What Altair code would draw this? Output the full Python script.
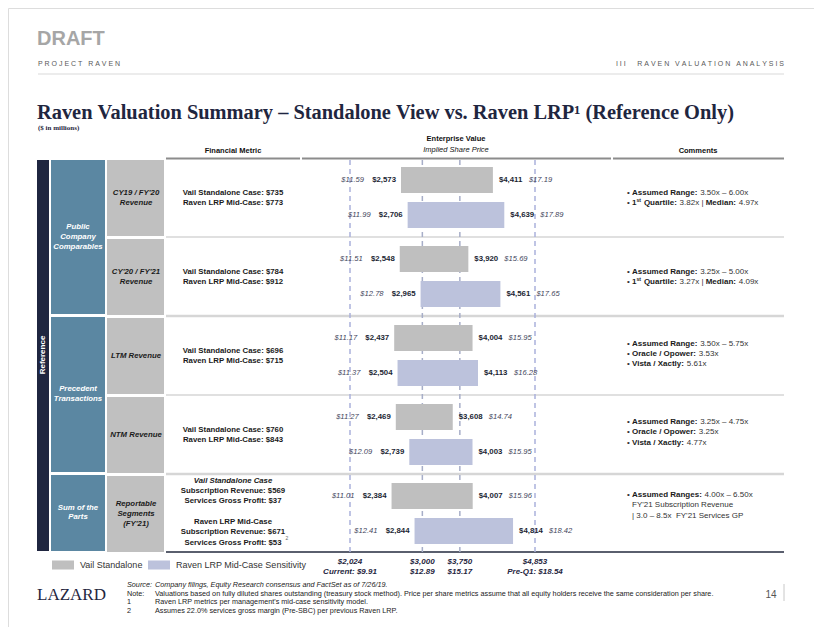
import altair as alt
import pandas as pd

# ---------------- data ----------------
GROUPS = ["CY19 / FY'20 Revenue", "CY'20 / FY'21 Revenue", "LTM Revenue", "NTM Revenue",
          "Reportable Segments (FY'21)"]
CASES = ["Vail Standalone", "Raven LRP Mid-Case Sensitivity"]
VAIL_LOW = [2573, 2548, 2437, 2469, 2384]
VAIL_HIGH = [4411, 3920, 4004, 3608, 4007]
VAIL_LOW_PX = ["$11.59", "$11.51", "$11.17", "$11.27", "$11.01"]
VAIL_HIGH_PX = ["$17.19", "$15.69", "$15.95", "$14.74", "$15.96"]
LRP_LOW = [2706, 2965, 2504, 2739, 2844]
LRP_HIGH = [4639, 4561, 4113, 4003, 4814]
LRP_LOW_PX = ["$11.99", "$12.78", "$11.37", "$12.09", "$12.41"]
LRP_HIGH_PX = ["$17.89", "$17.65", "$16.28", "$15.95", "$18.42"]
REF_EV = [2024, 3000, 3750, 4853]
REF_KIND = ["outer", "inner", "inner", "outer"]
REF_TOP = ["$2,024", "$3,000", "$3,750", "$4,853"]
REF_BOTTOM = ["Current: $9.91", "$12.89", "$15.17", "Pre-Q1: $18.54"]

METRIC_CELL = [["CY19 / FY'20", "Revenue"], ["CY'20 / FY'21", "Revenue"], ["LTM Revenue"],
               ["NTM Revenue"], ["Reportable", "Segments", "(FY'21)"]]
CATEGORY_CELL = [["Public", "Company", "Comparables"], ["Precedent", "Transactions"], ["Sum of the", "Parts"]]
FIN_METRIC = [["Vail Standalone Case: $735", "Raven LRP Mid-Case: $773"],
              ["Vail Standalone Case: $784", "Raven LRP Mid-Case: $912"],
              ["Vail Standalone Case: $696", "Raven LRP Mid-Case: $715"],
              ["Vail Standalone Case: $760", "Raven LRP Mid-Case: $843"]]
SOTP_METRIC = [("Vail Standalone Case", "fin_i"), ("Subscription Revenue: $569", "fin"),
               ("Services Gross Profit: $37", "fin"), ("Raven LRP Mid-Case", "fin"),
               ("Subscription Revenue: $671", "fin"), ("Services Gross Profit: $53", "fin")]
COMMENTS = [
    [(True, [("Assumed Range:", "b"), (" 3.50x \u2013 6.00x", "r")]),
     (True, [("1", "b"), ("st", "s"), (" Quartile:", "b"), (" 3.82x | ", "r"), ("Median:", "b"), (" 4.97x", "r")])],
    [(True, [("Assumed Range:", "b"), (" 3.25x \u2013 5.00x", "r")]),
     (True, [("1", "b"), ("st", "s"), (" Quartile:", "b"), (" 3.27x | ", "r"), ("Median:", "b"), (" 4.09x", "r")])],
    [(True, [("Assumed Range:", "b"), (" 3.50x \u2013 5.75x", "r")]),
     (True, [("Oracle / Opower:", "b"), (" 3.53x", "r")]),
     (True, [("Vista / Xactly:", "b"), (" 5.61x", "r")])],
    [(True, [("Assumed Range:", "b"), (" 3.25x \u2013 4.75x", "r")]),
     (True, [("Oracle / Opower:", "b"), (" 3.25x", "r")]),
     (True, [("Vista / Xactly:", "b"), (" 4.77x", "r")])],
    [(True, [("Assumed Ranges:", "b"), (" 4.00x \u2013 6.50x", "r")]),
     (False, [("FY'21 Subscription Revenue", "r")]),
     (False, [("| 3.0 \u2013 8.5x  FY'21 Services GP", "r")])],
]
FOOTNOTES = [("Source:", "Company filings, Equity Research consensus and FactSet as of 7/26/19.", True),
             ("Note:", "Valuations based on fully diluted shares outstanding (treasury stock method). Price per share "
                       "metrics assume that all equity holders receive the same consideration per share.", False),
             ("1", "Raven LRP metrics per management's mid-case sensitivity model.", False),
             ("2", "Assumes 22.0% services gross margin (Pre-SBC) per previous Raven LRP.", False)]

# ---------------- layout / style ----------------
NAVY = "#1f2640"
STEEL = "#5b87a2"
CELLGRAY = "#c0c0c0"
BAR_GRAY = "#bfbfbf"
BAR_BLUE = "#bcc2dc"
SANS = "Liberation Sans"
SERIF = "Liberation Serif"
NB = "\u00a0"


def P(v):
    return v - 8  # page pixel -> chart pixel


def spaced(s):
    return (NB * 3).join(NB.join(w) for w in s.split(" "))


ROW_TOP = 158
STEP = 79

lo_min = min(VAIL_LOW + LRP_LOW)
hi_max = max(VAIL_HIGH + LRP_HIGH)
XS = alt.Scale(domain=[REF_EV[0], lo_min, hi_max, REF_EV[-1]],
               range=[P(350), P(272.35 + 0.05 * lo_min), P(272.35 + 0.05 * hi_max), P(535)],
               zero=False, nice=False)
YS = alt.Scale(domain=GROUPS, range=[P(ROW_TOP), P(ROW_TOP + 5 * STEP)], paddingInner=0, paddingOuter=0)
YOS = alt.Scale(domain=CASES, paddingInner=0.257, paddingOuter=0.257)

rows = []
for i, g in enumerate(GROUPS):
    rows.append(dict(group=g, case=CASES[0], low=VAIL_LOW[i], high=VAIL_HIGH[i],
                     lo_lbl=f"${VAIL_LOW[i]:,}", hi_lbl=f"${VAIL_HIGH[i]:,}",
                     lo_px=VAIL_LOW_PX[i], hi_px=VAIL_HIGH_PX[i]))
    rows.append(dict(group=g, case=CASES[1], low=LRP_LOW[i], high=LRP_HIGH[i],
                     lo_lbl=f"${LRP_LOW[i]:,}", hi_lbl=f"${LRP_HIGH[i]:,}",
                     lo_px=LRP_LOW_PX[i], hi_px=LRP_HIGH_PX[i]))
bars_df = pd.DataFrame(rows)
ref_df = pd.DataFrame(dict(ev=REF_EV, kind=REF_KIND, top=REF_TOP, bottom=REF_BOTTOM))

base = alt.Chart(bars_df).encode(
    y=alt.Y("group:N", sort=GROUPS, scale=YS, axis=None),
    yOffset=alt.YOffset("case:N", sort=CASES, scale=YOS),
)
bars = base.mark_bar(opacity=1).encode(
    x=alt.X("low:Q", scale=XS, axis=None),
    x2="high:Q",
    color=alt.Color("case:N", sort=CASES, scale=alt.Scale(domain=CASES, range=[BAR_GRAY, BAR_BLUE]),
                    legend=alt.Legend(title=None, orient="none", legendX=P(52), legendY=P(554),
                                      direction="horizontal", symbolType="M-1,-0.41H1V0.41H-1Z",
                                      symbolSize=484, symbolStrokeWidth=0, symbolOpacity=1,
                                      labelFont=SANS, labelFontSize=9, labelColor="#333333",
                                      labelOffset=6, columnPadding=5, padding=0)),
)
ev_lo = base.mark_text(align="right", dx=-5, font=SANS, fontSize=7.8, fontWeight="bold", color="#1b1f33",
                       baseline="middle").encode(x=alt.X("low:Q", scale=XS, axis=None), text="lo_lbl:N")
px_lo = base.mark_text(align="right", dx=-37, font=SANS, fontSize=7.6, fontStyle="italic", color="#43465c",
                       baseline="middle").encode(x=alt.X("low:Q", scale=XS, axis=None), text="lo_px:N")
ev_hi = base.mark_text(align="left", dx=6, font=SANS, fontSize=7.8, fontWeight="bold", color="#1b1f33",
                       baseline="middle").encode(x=alt.X("high:Q", scale=XS, axis=None), text="hi_lbl:N")
px_hi = base.mark_text(align="left", dx=36, font=SANS, fontSize=7.6, fontStyle="italic", color="#43465c",
                       baseline="middle").encode(x=alt.X("high:Q", scale=XS, axis=None), text="hi_px:N")

ref_rules = alt.Chart(ref_df).mark_rule(strokeDash=[5, 4], strokeWidth=1.5).encode(
    x=alt.X("ev:Q", scale=XS, axis=None),
    y=alt.value(P(160)), y2=alt.value(P(552)),
    color=alt.Color("kind:N", scale=alt.Scale(domain=["outer", "inner"], range=["#aab1dc", "#a7aec8"]),
                    legend=None),
)
ref_top = alt.Chart(ref_df).mark_text(font=SANS, fontSize=8, fontWeight="bold", fontStyle="italic",
                                      color=NAVY, baseline="middle").encode(
    x=alt.X("ev:Q", scale=XS, axis=None), y=alt.value(P(562)), text="top:N")
ref_bot = alt.Chart(ref_df).mark_text(font=SANS, fontSize=8, fontWeight="bold", fontStyle="italic",
                                      color=NAVY, baseline="middle").encode(
    x=alt.X("ev:Q", scale=XS, axis=None), y=alt.value(P(572)), text="bottom:N")

# ---------------- table decoration ----------------
rects = [dict(x=37, x2=49, y=160, y2=551, c=NAVY)]
for top, bot in [(160, 314), (317, 472), (475, 551)]:
    rects.append(dict(x=51, x2=105, y=top, y2=bot, c=STEEL))
for i in range(5):
    t = ROW_TOP + i * STEP
    rects.append(dict(x=107, x2=164, y=t + 2, y2=t + STEP - 1, c=CELLGRAY))
rect_df = pd.DataFrame(rects)
for k in ["x", "x2", "y", "y2"]:
    rect_df[k] = rect_df[k].map(P)
cells = alt.Chart(rect_df).mark_rect().encode(
    x=alt.X("x:Q", scale=None, axis=None), x2="x2:Q",
    y=alt.Y("y:Q", scale=None, axis=None), y2="y2:Q",
    color=alt.Color("c:N", scale=None))

lines = [dict(x=38, x2=784, y=74, y2=74, c="#d9d9d9", w=1)]
for a, b in [(166, 300), (302, 611), (613, 784)]:
    lines.append(dict(x=a, x2=b, y=158.5, y2=158.5, c="#8c8c8c", w=2))
for i in range(1, 5):
    yy = ROW_TOP + i * STEP
    lines.append(dict(x=166, x2=784, y=yy, y2=yy, c="#d6d6d6", w=2.5 if i in (2, 4) else 1.3))
lines.append(dict(x=166, x2=784, y=552, y2=552, c="#5a5f6e", w=2))
lines.append(dict(x=784, x2=784, y=584, y2=601, c="#c8c8c8", w=1))
line_df = pd.DataFrame(lines)
for k in ["x", "x2", "y", "y2"]:
    line_df[k] = line_df[k].map(P)
rules = alt.Chart(line_df).mark_rule().encode(
    x=alt.X("x:Q", scale=None, axis=None), x2="x2:Q",
    y=alt.Y("y:Q", scale=None, axis=None), y2="y2:Q",
    color=alt.Color("c:N", scale=None), strokeWidth=alt.StrokeWidth("w:Q", scale=None))

# ---------------- static texts ----------------
CM = 8.0
STYLES = {
    "draft": dict(font=SANS, fontSize=20, fontWeight="bold", color="#a6a6a6", align="left"),
    "hdr": dict(font=SANS, fontSize=7, color="#595959", align="left"),
    "hdr_r": dict(font=SANS, fontSize=7, color="#595959", align="right"),
    "title": dict(font=SERIF, fontSize=20.4, fontWeight="bold", color=NAVY, align="left"),
    "sub": dict(font=SERIF, fontSize=7, fontWeight="bold", color=NAVY, align="left"),
    "colhead": dict(font=SANS, fontSize=7.5, fontWeight="bold", color="#111111", align="center"),
    "colhead_i": dict(font=SANS, fontSize=7.5, fontStyle="italic", color="#111111", align="center"),
    "cat": dict(font=SANS, fontSize=7.8, fontWeight="bold", fontStyle="italic", color="white", align="center"),
    "metric": dict(font=SANS, fontSize=7.8, fontWeight="bold", fontStyle="italic", color="#1a1a1a",
                   align="center"),
    "fin": dict(font=SANS, fontSize=7.8, fontWeight="bold", color="#1a1a1a", align="center"),
    "fin_i": dict(font=SANS, fontSize=7.8, fontWeight="bold", fontStyle="italic", color="#1a1a1a",
                  align="center"),
    "b": dict(font=SANS, fontSize=CM, fontWeight="bold", color="#1a1a1a", align="left"),
    "r": dict(font=SANS, fontSize=CM, color="#333333", align="left"),
    "s": dict(font=SANS, fontSize=5.2, fontWeight="bold", color="#1a1a1a", align="left", dy=-2.6),
    "foot": dict(font=SANS, fontSize=7.25, color="#222222", align="left"),
    "foot_i": dict(font=SANS, fontSize=7.25, fontStyle="italic", color="#222222", align="left"),
    "logo": dict(font=SERIF, fontSize=17, color=NAVY, align="left"),
    "page": dict(font=SANS, fontSize=10, color="#555555", align="center"),
    "sup2": dict(font=SANS, fontSize=5, color="#666666", align="left"),
    "refv": dict(font=SANS, fontSize=8, fontWeight="bold", color="white", align="center", angle=270),
}
texts = []


def T(x, y, t, style):
    texts.append(dict(x=P(x), y=P(y), t=t.replace(" ", NB), s=style))


T(37, 39, "DRAFT", "draft")
T(38, 64, spaced("PROJECT RAVEN"), "hdr")
T(784, 64, NB.join("III") + NB * 6 + spaced("RAVEN VALUATION ANALYSIS"), "hdr_r")
T(37, 113, "Raven Valuation Summary \u2013 Standalone View vs. Raven LRP\u00b9 (Reference Only)", "title")
T(38, 128, "($ in millions)", "sub")
T(233, 151, "Financial Metric", "colhead")
T(456, 139, "Enterprise Value", "colhead")
T(456, 150, "Implied Share Price", "colhead_i")
T(698, 151, "Comments", "colhead")
T(43, 355, "Reference", "refv")

for lines_, yc in zip(CATEGORY_CELL, [237, 394, 512.5]):
    n = len(lines_)
    for j, s in enumerate(lines_):
        T(78, yc + (j - (n - 1) / 2) * 9.7, s, "cat")
for i, lines_ in enumerate(METRIC_CELL):
    yc = ROW_TOP + i * STEP + 40
    n = len(lines_)
    for j, s in enumerate(lines_):
        T(136, yc + (j - (n - 1) / 2) * 9.7, s, "metric")
for i, (a, b) in enumerate(FIN_METRIC):
    yc = ROW_TOP + i * STEP + 40
    T(233, yc - 5, a, "fin")
    T(233, yc + 5, b, "fin")
for s, yy in zip(SOTP_METRIC, [481, 491, 501, 522, 532, 543]):
    T(233, yy, s[0], s[1])
T(285.5, 538, "2", "sup2")

# comments with mixed weights
HB = dict(zip(" AMOQRVXacdegilmnoprstuwy/:1|",
              [278, 722, 833, 778, 778, 722, 667, 667, 556, 556, 611, 556, 611, 278, 278, 889, 611, 611,
               611, 389, 556, 333, 611, 778, 556, 278, 333, 556, 280]))
HR = {" ": 278, ".": 278, "x": 500, "\u2013": 556, "|": 260, "'": 191, "F": 611, "Y": 667, "S": 667,
      "G": 778, "P": 667, "R": 722, "b": 556, "c": 500, "e": 556, "i": 222, "n": 556, "o": 556, "p": 556,
      "r": 333, "s": 500, "t": 278, "u": 556, "v": 500}
SIZES = {"b": CM, "r": CM, "s": 5.2}


def tw(s, style):
    table = HR if style == "r" else HB
    return sum(table.get(c, 556) for c in s) * SIZES[style] / 1000.0


COMMENT_Y = [[193, 203], [272, 282], [344, 354, 364], [422, 432, 443], [495, 505, 516]]
for grp, ys in zip(COMMENTS, COMMENT_Y):
    for (bullet, segs), yy in zip(grp, ys):
        if bullet:
            T(627, yy, "\u2022", "r")
        x = 632
        for s, st in segs:
            lead = len(s) - len(s.lstrip(" "))
            core = s.strip(" ")
            x += lead * 278 * SIZES[st] / 1000.0 + (0.6 if lead else 0)
            T(x, yy, core, st)
            x += tw(s, st) - lead * 278 * SIZES[st] / 1000.0

for (lbl, txt, ital), yy in zip(FOOTNOTES, [585, 593.7, 602.4, 611]):
    T(127, yy, lbl, "foot_i" if ital else "foot")
    T(155, yy, txt, "foot_i" if ital else "foot")
T(37, 595, "LAZARD", "logo")
T(771, 595, "14", "page")

text_df = pd.DataFrame(texts)
text_layers = []
for name, kw in STYLES.items():
    sub = text_df[text_df.s == name]
    if len(sub) == 0:
        continue
    text_layers.append(alt.Chart(sub).mark_text(baseline="middle", **kw).encode(
        x=alt.X("x:Q", scale=None, axis=None), y=alt.Y("y:Q", scale=None, axis=None), text="t:N"))

chart = alt.layer(
    cells, rules, ref_rules, bars, ev_lo, px_lo, ev_hi, px_hi, ref_top, ref_bot, *text_layers
).resolve_scale(
    x="independent", y="independent", color="independent", strokeWidth="independent"
).properties(
    width=806, height=619, autosize=alt.AutoSizeParams(type="none"), padding=0, background="white"
).configure_view(strokeWidth=0).configure(font=SANS)

chart.save("out.html", embed_options={"renderer": "svg", "actions": False})
